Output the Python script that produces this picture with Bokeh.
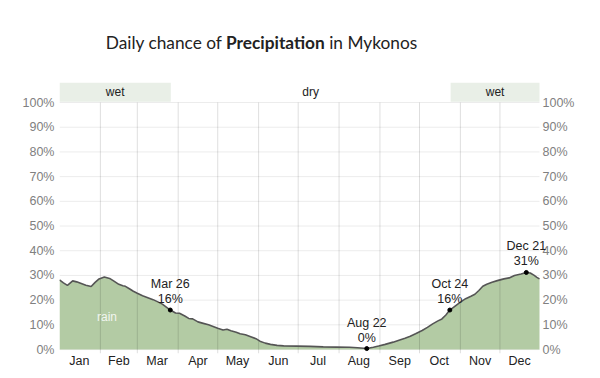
from bokeh.plotting import figure
from bokeh.models import (ColumnDataSource, FixedTicker, LinearAxis, Range1d, Div, Label)
from bokeh.layouts import column
from bokeh.core.properties import value
from bokeh.embed import file_html
from bokeh.resources import INLINE

# ---- data (day of year from Jan 1 = 0, chance of precipitation in %) ----
days = [0, 3, 6, 10, 13, 16, 20, 24, 27, 30, 34, 38, 41, 45, 48, 50, 53, 56, 59,
        63, 67, 71, 75, 78, 81, 84, 88, 91, 95, 98, 101, 105, 109, 113, 117, 120,
        124, 127, 130, 134, 137, 141, 145, 149, 152, 156, 160, 165, 170, 180, 190,
        200, 210, 220, 226, 233, 238, 242, 247, 253, 258, 262, 266, 270, 275, 279,
        283, 287, 290, 293, 296, 300, 304, 308, 312, 315, 318, 321, 324, 328, 332,
        337, 341, 345, 350, 354, 357, 360, 362, 364]
chance = [28.2, 27.0, 26.0, 27.8, 27.4, 26.8, 26.0, 25.5, 27.2, 28.6, 29.4, 28.8,
          27.8, 26.4, 25.8, 25.6, 24.6, 23.6, 22.8, 21.8, 21.0, 20.2, 19.2, 18.4,
          17.2, 16.0, 14.8, 14.7, 13.6, 12.6, 12.4, 11.2, 10.6, 10.0, 9.2, 8.6,
          7.9, 8.2, 7.6, 7.0, 6.4, 6.0, 5.2, 4.4, 3.4, 2.6, 2.1, 1.7, 1.5, 1.4,
          1.3, 1.1, 1.0, 0.9, 0.7, 0.4, 0.9, 1.4, 2.1, 3.0, 3.9, 4.6, 5.4, 6.4,
          7.7, 9.0, 10.4, 11.6, 12.4, 14.0, 16.0, 17.6, 19.2, 20.6, 21.6, 22.4,
          23.9, 25.6, 26.4, 27.2, 27.9, 28.6, 29.0, 30.0, 30.6, 31.2, 31.0, 30.0,
          29.2, 28.6]

month_names = ["Jan", "Feb", "Mar", "Apr", "May", "Jun",
               "Jul", "Aug", "Sep", "Oct", "Nov", "Dec"]
month_mid = [15, 45, 74, 105, 135, 166, 196, 227, 258, 288, 319, 349]
month_start = [31, 59, 90, 120, 151, 181, 212, 243, 273, 304, 334]
YEAR_END = 364

y_ticks = [0, 10, 20, 30, 40, 50, 60, 70, 80, 90, 100]
y_labels = ["0%", "10%", "20%", "30%", "40%", "50%", "60%", "70%", "80%", "90%", "100%"]

ann_days = [84, 233, 296, 354]
ann_date = ["Mar 26", "Aug 22", "Oct 24", "Dec 21"]
ann_pct = ["16%", "0%", "16%", "31%"]

band_start = [0, 84.4, 296.6]
band_end = [84.4, 296.6, YEAR_END]
band_label = ["wet", "dry", "wet"]
band_wet = [True, False, True]

# ---- figure ----
W, H_TITLE = 584, 66
Y0, Y1 = -1.6, 108.1
PX_PER_DAY = 480 / YEAR_END
EXTRA_PX = 10  # room on the right so the last annotation is not clipped
p = figure(frame_width=480 + EXTRA_PX, frame_height=271, output_backend="svg",
           toolbar_location=None,
           x_range=Range1d(0, YEAR_END + EXTRA_PX / PX_PER_DAY), y_range=Range1d(Y0, Y1),
           min_border_left=59, min_border_right=35, min_border_top=6,
           min_border_bottom=18, outline_line_color=None)
p.background_fill_color = "white"
p.border_fill_color = "white"

p.xgrid.visible = False
p.ygrid.visible = False

# horizontal grid lines (only across the year span)
hs = ColumnDataSource(dict(y=y_ticks, x0=[0] * len(y_ticks),
                           x1=[YEAR_END] * len(y_ticks)))
p.segment(x0="x0", y0="y", x1="x1", y1="y", source=hs, line_color="#ececec",
          line_width=1)

# vertical month separators
vs = ColumnDataSource(dict(x=month_start, y0=[Y0] * len(month_start),
                           y1=[100] * len(month_start)))

# area
src = ColumnDataSource(dict(x=days, y=chance, z=[0] * len(days)))
p.varea(x="x", y1="z", y2="y", source=src, fill_color="#b3cba4", fill_alpha=1.0)
p.segment(x0="x", y0="y0", x1="x", y1="y1", source=vs, line_color="#000000",
          line_alpha=0.13, line_width=1)
p.line(x="x", y="y", source=src, line_color="#555555", line_width=1.6)

# rain label
p.text(x=[36], y=[13], text=["rain"], text_align="center", text_baseline="middle",
       text_color="white", text_alpha=0.85, text_font=value("Liberation Sans"),
       text_font_size="12px")

# highlighted points
ann_vals = [chance[days.index(d)] for d in ann_days]
ann_src = ColumnDataSource(dict(x=ann_days, y=ann_vals))
p.scatter(x="x", y="y", source=ann_src, size=4, color="black")
for d, v, t1, t2 in zip(ann_days, ann_vals, ann_date, ann_pct):
    for txt, off in ((t2, 4), (t1, 19)):
        p.add_layout(Label(x=d, y=v, text=txt, text_align="center",
                           text_baseline="bottom", y_offset=off,
                           text_color="#222222", text_font="Liberation Sans",
                           text_font_size="12.5px"))

# bands
wet_s = [s for s, w in zip(band_start, band_wet) if w]
wet_e = [e for e, w in zip(band_end, band_wet) if w]
p.quad(left=wet_s, right=wet_e, bottom=[100.3] * len(wet_s), top=[Y1] * len(wet_s),
       fill_color="#e9efe7", line_color=None)
band_mid = [(s + e) / 2 for s, e in zip(band_start, band_end)]
p.text(x=band_mid, y=[104.2] * len(band_mid), text=band_label, text_align="center",
       text_baseline="middle", text_color="#222222",
       text_font=value("Liberation Sans"), text_font_size="12px")

# axes
xa = p.xaxis[0]
xa.ticker = FixedTicker(ticks=month_mid)
xa.major_label_overrides = {m: n for m, n in zip(month_mid, month_names)}
xa.axis_line_color = None
xa.major_tick_line_color = None
xa.minor_tick_line_color = None
xa.major_tick_out = 0
xa.major_tick_in = 0
xa.major_label_standoff = 0
xa.major_label_text_font = "Liberation Sans"
xa.major_label_text_font_size = "12.5px"
xa.major_label_text_color = "#222222"

def style_y(ax):
    ax.ticker = FixedTicker(ticks=y_ticks)
    ax.major_label_overrides = {t: l for t, l in zip(y_ticks, y_labels)}
    ax.axis_line_color = None
    ax.major_tick_line_color = None
    ax.minor_tick_line_color = None
    ax.major_tick_out = 0
    ax.major_tick_in = 0
    ax.major_label_text_font = "Liberation Sans"
    ax.major_label_text_font_size = "12.5px"
    ax.major_label_text_color = "#808080"

ya = p.yaxis[0]
style_y(ya)
ya.major_label_standoff = 5
ra = LinearAxis()
style_y(ra)
ra.major_label_standoff = 3 - EXTRA_PX
p.add_layout(ra, "right")

title = Div(text='<div style="margin-top:26px; font-family: Lato, \'Open Sans\', sans-serif; '
                 'font-size:17.3px; color:#222; text-align:center; width:513px;">'
                 'Daily chance of <b>Precipitation</b> in Mykonos</div>',
            width=W, height=H_TITLE)

layout = column(title, p, spacing=0)
open("out.html", "w").write(file_html(layout, INLINE))
